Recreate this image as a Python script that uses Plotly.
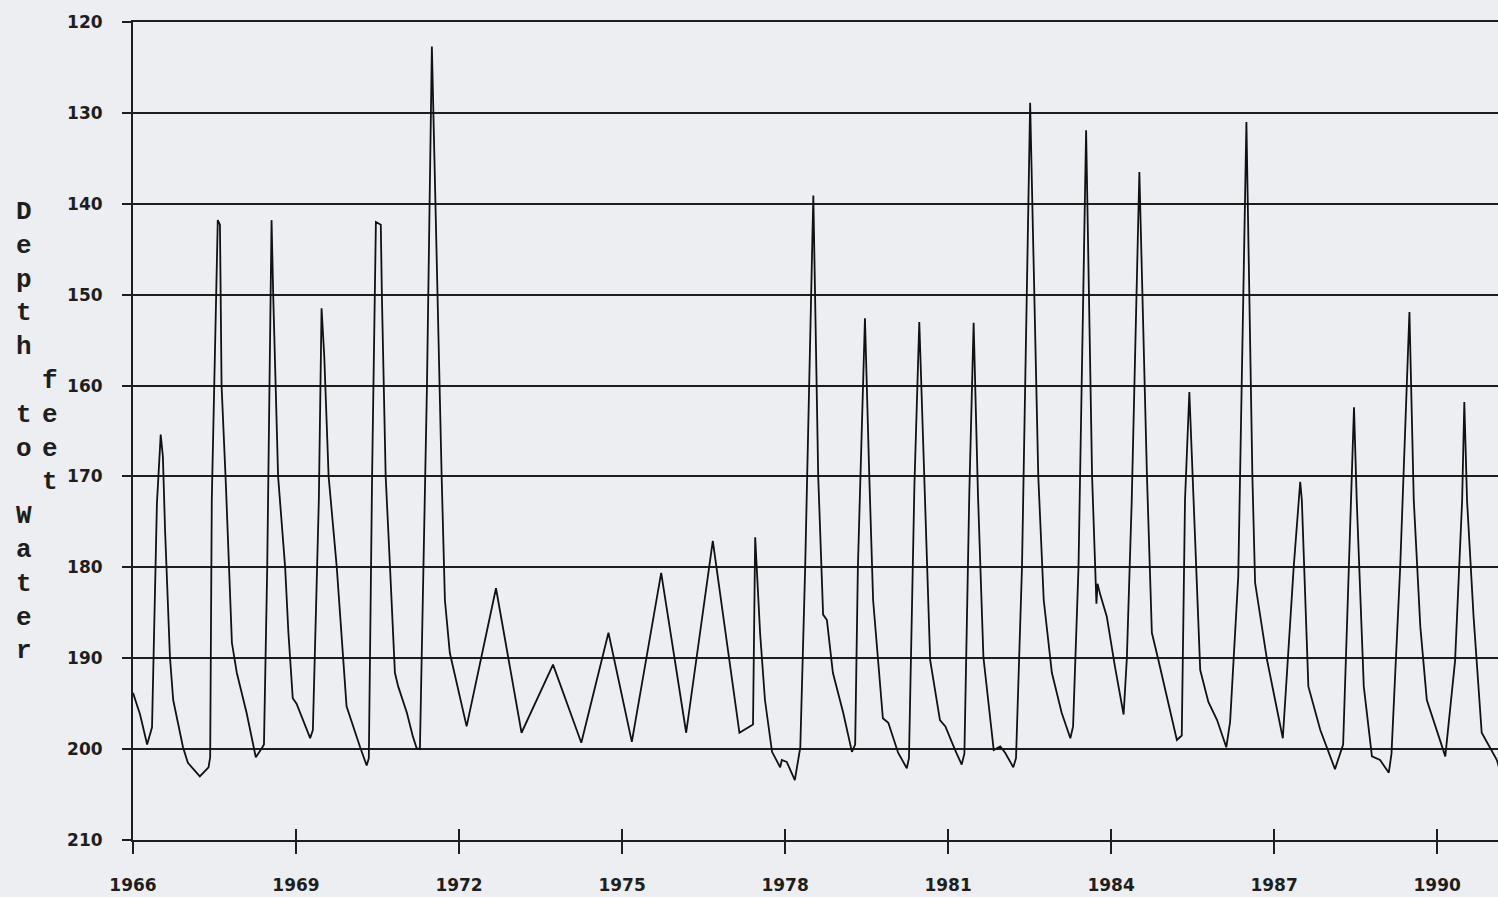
import plotly.graph_objects as go

# Depth to water (feet below land surface), well hydrograph 1966-1991
years = [
    1966.00, 1966.13, 1966.26, 1966.35, 1966.44, 1966.48, 1966.51, 1966.55, 1966.59, 1966.68,
    1966.74, 1966.92, 1967.01, 1967.23, 1967.39, 1967.42, 1967.45, 1967.56, 1967.60, 1967.63,
    1967.71, 1967.82, 1967.91, 1968.09, 1968.26, 1968.37, 1968.41, 1968.47, 1968.55, 1968.58,
    1968.67, 1968.80, 1968.86, 1968.94, 1969.01, 1969.26, 1969.31, 1969.42, 1969.47, 1969.52,
    1969.60, 1969.75, 1969.93, 1970.18, 1970.30, 1970.34, 1970.40, 1970.47, 1970.56, 1970.58,
    1970.65, 1970.73, 1970.82, 1970.88, 1971.04, 1971.15, 1971.22, 1971.28, 1971.36, 1971.41,
    1971.50, 1971.56, 1971.68, 1971.74, 1971.83, 1972.14, 1972.68, 1973.15, 1973.73, 1974.25,
    1974.75, 1975.18, 1975.72, 1976.18, 1976.67, 1977.16, 1977.41, 1977.45, 1977.54, 1977.63,
    1977.76, 1977.91, 1977.94, 1978.03, 1978.18, 1978.28, 1978.37, 1978.52, 1978.61, 1978.70,
    1978.77, 1978.88, 1979.07, 1979.23, 1979.29, 1979.34, 1979.47, 1979.55, 1979.62, 1979.80,
    1979.90, 1980.08, 1980.24, 1980.28, 1980.38, 1980.47, 1980.56, 1980.67, 1980.85, 1980.95,
    1981.13, 1981.25, 1981.30, 1981.39, 1981.47, 1981.55, 1981.65, 1981.84, 1981.96, 1982.05,
    1982.20, 1982.25, 1982.36, 1982.51, 1982.66, 1982.76, 1982.91, 1983.09, 1983.25, 1983.30,
    1983.40, 1983.54, 1983.65, 1983.71, 1983.73, 1983.75, 1983.80, 1983.92, 1984.07, 1984.23,
    1984.29, 1984.38, 1984.52, 1984.66, 1984.75, 1984.87, 1985.21, 1985.30, 1985.36, 1985.44,
    1985.52, 1985.64, 1985.79, 1985.95, 1986.12, 1986.19, 1986.34, 1986.49, 1986.60, 1986.65,
    1986.87, 1987.16, 1987.36, 1987.48, 1987.51, 1987.63, 1987.85, 1988.12, 1988.27, 1988.37,
    1988.47, 1988.52, 1988.65, 1988.80, 1988.95, 1989.11, 1989.16, 1989.32, 1989.49, 1989.57,
    1989.69, 1989.81, 1990.15, 1990.33, 1990.46, 1990.50, 1990.55, 1990.67, 1990.82, 1991.10,
    1991.16,
]

depth_ft = [
    193.8, 196.2, 199.5, 197.6, 173.0, 168.5, 165.4, 167.8, 175.9, 189.9,
    194.6, 199.8, 201.5, 203.0, 202.0, 200.9, 172.6, 141.8, 142.3, 160.0,
    171.0, 188.3, 191.6, 196.0, 200.9, 199.9, 199.5, 180.0, 141.8, 150.0,
    170.0, 180.0, 187.2, 194.4, 195.0, 198.8, 197.9, 172.6, 151.5, 156.8,
    170.0, 180.0, 195.3, 199.8, 201.8, 201.0, 170.0, 142.0, 142.3, 150.0,
    170.0, 180.0, 191.6, 193.1, 196.0, 198.6, 199.9, 200.0, 172.6, 160.0,
    122.7, 139.6, 170.0, 183.6, 189.4, 197.5, 182.3, 198.2, 190.7, 199.3,
    187.2, 199.2, 180.6, 198.2, 177.1, 198.2, 197.3, 176.7, 187.2, 194.6,
    200.3, 202.0, 201.2, 201.4, 203.4, 199.8, 180.0, 139.1, 170.0, 185.2,
    185.8, 191.6, 196.0, 200.3, 199.5, 180.0, 152.6, 170.0, 183.6, 196.6,
    197.1, 200.4, 202.1, 201.0, 171.0, 153.0, 170.0, 190.2, 196.8, 197.5,
    200.1, 201.7, 200.5, 172.0, 153.1, 172.0, 189.9, 200.1, 199.7, 200.4,
    202.0, 201.0, 180.0, 128.9, 170.0, 183.6, 191.6, 196.0, 198.8, 197.5,
    180.0, 131.9, 170.0, 180.5, 184.0, 181.8, 183.0, 185.4, 190.9, 196.2,
    190.0, 172.6, 136.5, 170.0, 187.2, 190.2, 199.0, 198.5, 172.6, 160.7,
    172.6, 191.3, 194.8, 196.8, 199.8, 197.0, 181.0, 131.0, 170.0, 181.7,
    190.2, 198.8, 180.0, 170.6, 172.6, 193.1, 197.9, 202.2, 199.5, 180.0,
    162.4, 172.6, 193.1, 200.8, 201.2, 202.6, 200.5, 180.0, 151.9, 172.6,
    186.5, 194.6, 200.8, 190.3, 172.6, 161.8, 172.6, 185.4, 198.2, 201.2,
    202.5,
]

year_ticks = [1966, 1969, 1972, 1975, 1978, 1981, 1984, 1987, 1990]
depth_ticks = [120, 130, 140, 150, 160, 170, 180, 190, 200, 210]
x_range = [1966.0, 1991.12]
y_range = [210, 120]

title_left = "D<br>e<br>p<br>t<br>h<br> <br>t<br>o<br> <br>W<br>a<br>t<br>e<br>r"
title_right = "f<br>e<br>e<br>t"

INK = "#1e1e1e"
PAPER = "#eceef1"
tick_font = dict(family="DejaVu Sans", size=17, color=INK, weight="bold")
title_font = dict(family="Liberation Mono", size=26, color=INK, weight="bold")

fig = go.Figure()
fig.add_trace(go.Scatter(
    x=years, y=depth_ft, mode="lines",
    line=dict(color="#111111", width=1.8),
    showlegend=False, hoverinfo="skip",
))
# empty trace that carries the inner half of the year tick marks
fig.add_trace(go.Scatter(x=[], y=[], xaxis="x2", showlegend=False, hoverinfo="skip"))

fig.update_layout(
    width=1498, height=897,
    margin=dict(l=133, r=0, t=22, b=57),
    paper_bgcolor=PAPER, plot_bgcolor=PAPER,
    xaxis=dict(
        range=x_range, tickvals=year_ticks, ticktext=[str(v) for v in year_ticks],
        ticks="outside", ticklen=12, tickwidth=2, tickcolor=INK,
        showgrid=False, zeroline=False,
        showline=True, linecolor=INK, linewidth=2, mirror=True,
        tickfont=tick_font, ticklabelstandoff=17,
    ),
    xaxis2=dict(
        range=x_range, overlaying="x", anchor="y", side="bottom",
        tickvals=year_ticks, ticks="inside", ticklen=11, tickwidth=2, tickcolor=INK,
        showticklabels=False, showgrid=False, zeroline=False, showline=False,
    ),
    yaxis=dict(
        range=y_range, tickvals=depth_ticks, ticktext=[str(v) for v in depth_ticks],
        ticks="outside", ticklen=9, tickwidth=2, tickcolor=INK,
        showgrid=True, gridcolor=INK, gridwidth=2, zeroline=False,
        showline=True, linecolor=INK, linewidth=2,
        tickfont=tick_font, ticklabelstandoff=16,
    ),
    annotations=[
        dict(text=title_left, xref="paper", yref="paper", x=-0.080, y=0.5,
             xanchor="center", yanchor="middle", showarrow=False, font=title_font),
        dict(text=title_right, xref="paper", yref="paper", x=-0.061, y=0.5,
             xanchor="center", yanchor="middle", showarrow=False, font=title_font),
    ],
)

fig.write_html("out.html")
